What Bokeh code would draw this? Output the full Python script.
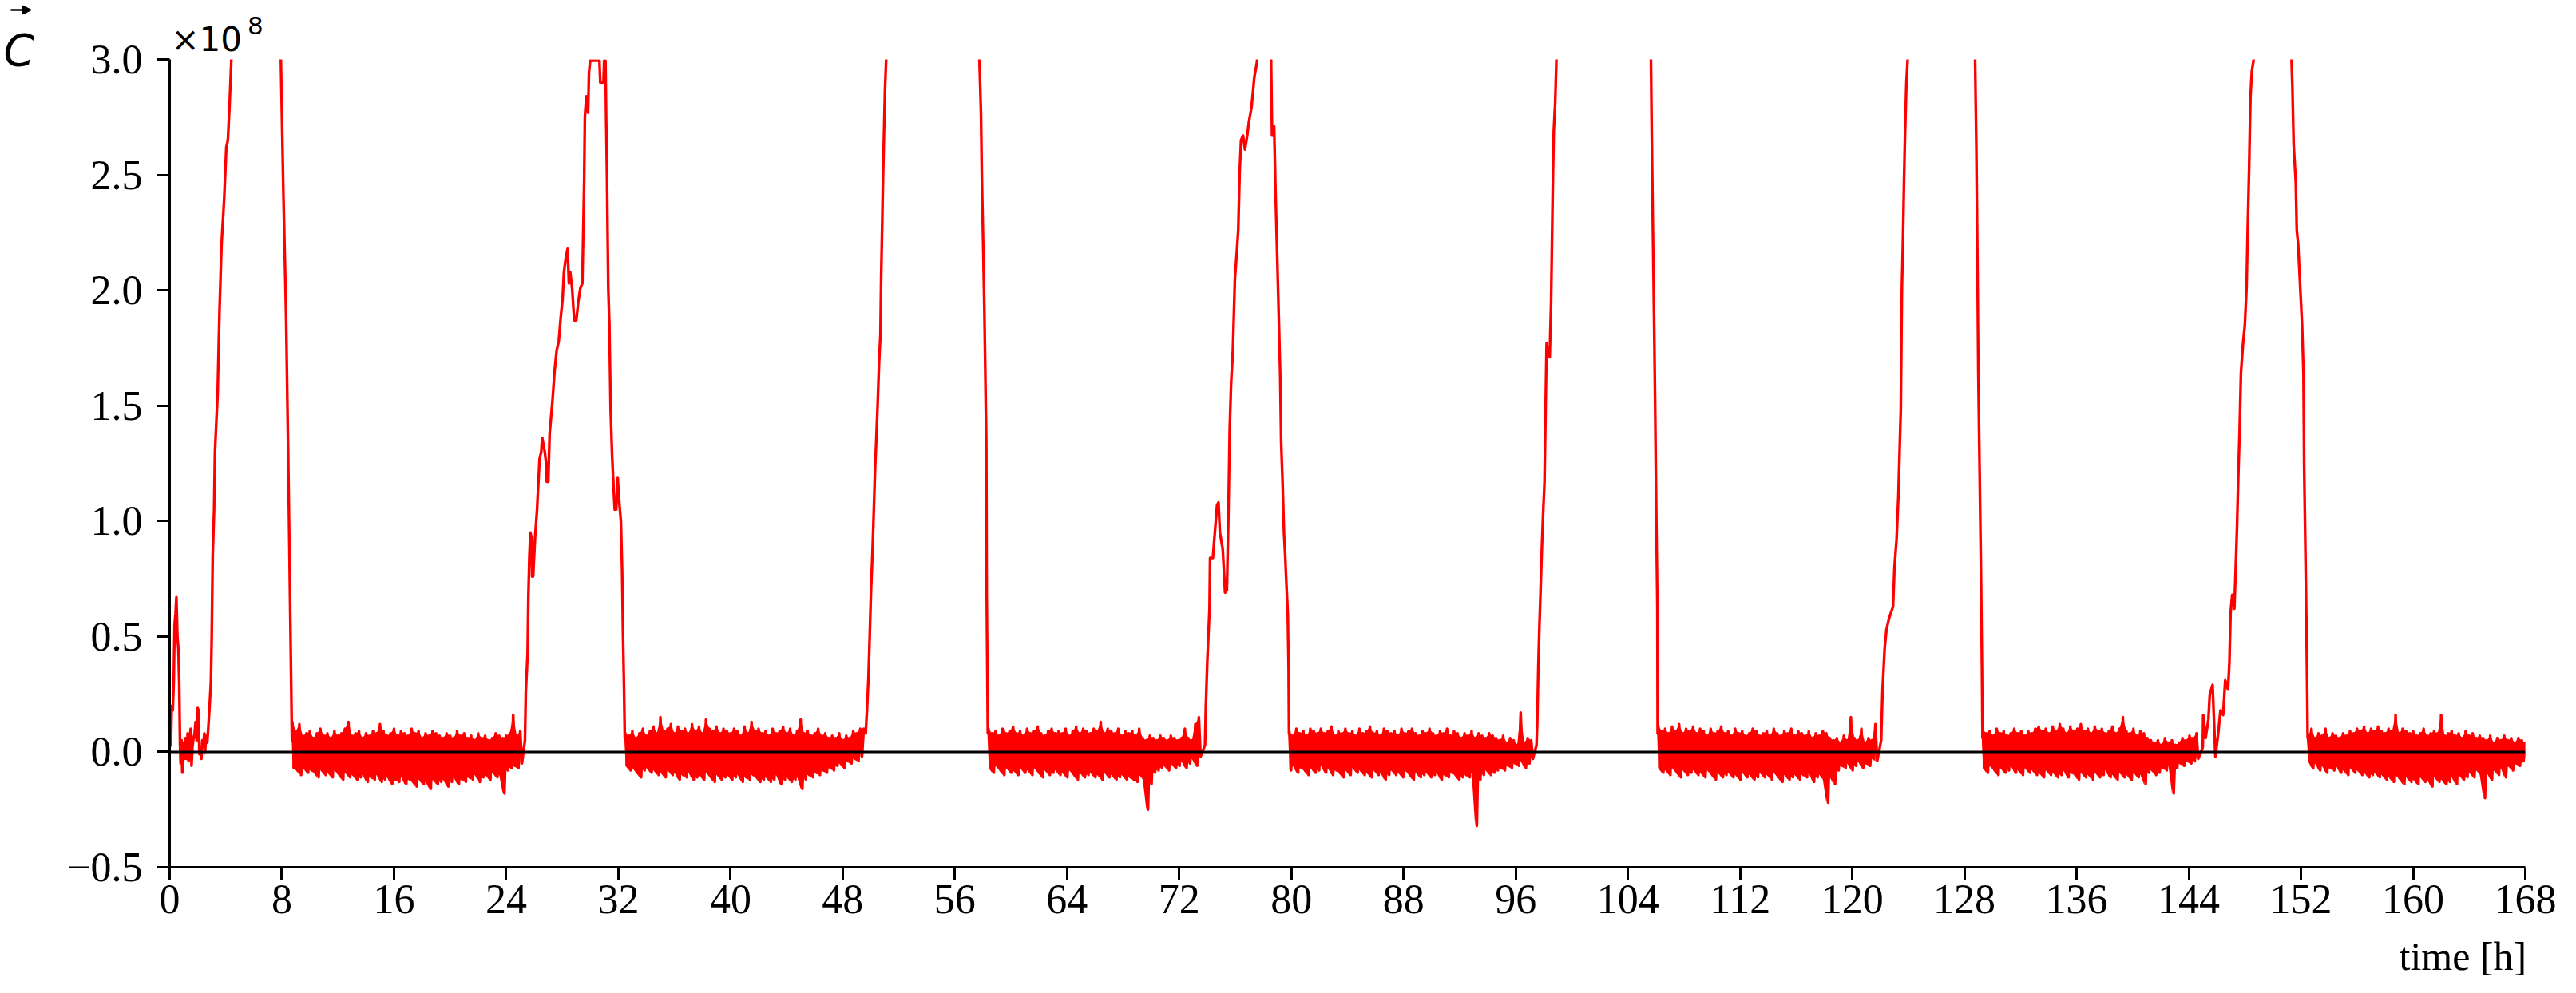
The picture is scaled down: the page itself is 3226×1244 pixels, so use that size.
from bokeh.plotting import figure
from bokeh.models import (Range1d, FixedTicker, Span, Label, PrintfTickFormatter,
                          Arrow, NormalHead)
from bokeh.layouts import row
from bokeh.embed import file_html
from bokeh.resources import INLINE

# ---------------- data (values in units of 1e8) ----------------
ramp0_t = [0.0, 0.09, 0.15, 0.22, 0.29, 0.35, 0.42, 0.48, 0.55, 0.62,
           0.68, 0.74, 0.78, 0.85, 0.9, 0.97, 1.05, 1.12, 1.2, 1.28,
           1.35, 1.42, 1.5, 1.56, 1.62, 1.7, 1.78, 1.85, 1.92, 2.0,
           2.06, 2.12, 2.2, 2.26, 2.33, 2.4, 2.47, 2.52, 2.6, 2.68,
           2.75, 2.85, 2.94, 3.0, 3.07, 3.17, 3.23, 3.42, 3.55, 3.7,
           3.89, 4.04, 4.15, 4.27, 4.4, 4.6, 6.2, 7.8, 7.93, 8.1,
           8.3, 8.45, 8.6, 8.72]
ramp0_v = [0.02, 0.04, 0.2, 0.18, 0.3, 0.55, 0.6, 0.67, 0.5, 0.45,
           0.3, 0.03, -0.05, 0.05, -0.09, 0.04, -0.03, 0.06, -0.03, 0.08,
           -0.04, 0.05, 0.1, -0.06, 0.02, 0.06, 0.08, 0.13, 0.05, 0.19,
           0.18, -0.01, 0.02, -0.03, 0.05, 0.02, 0.08, 0.0, 0.07, 0.04,
           0.1, 0.2, 0.3, 0.5, 0.85, 1.05, 1.3, 1.55, 1.9, 2.2,
           2.4, 2.62, 2.65, 2.8, 3.0, 3.4, 3.9, 3.3, 3.0, 2.45,
           1.9, 1.3, 0.6, 0.05]

ramp1_t = [25.34, 25.4, 25.53, 25.58, 25.65, 25.72, 25.8, 25.85, 25.92, 26.05,
           26.2, 26.38, 26.5, 26.57, 26.75, 26.85, 26.9, 27.0, 27.1, 27.3,
           27.45, 27.6, 27.75, 27.9, 28.02, 28.12, 28.25, 28.38, 28.47, 28.56,
           28.7, 28.85, 29.0, 29.14, 29.29, 29.43, 29.48, 29.56, 29.61, 29.71,
           29.84, 29.9, 29.99, 30.3, 30.65, 30.71, 30.94, 30.99, 31.08, 31.13,
           31.19, 31.23, 31.28, 31.36, 31.45, 31.55, 31.64, 31.74, 31.85, 31.95,
           32.08, 32.18, 32.27, 32.33, 32.4, 32.46]
ramp1_v = [0.05, 0.26, 0.43, 0.67, 0.84, 0.95, 0.93, 0.76, 0.76, 0.92,
           1.05, 1.27, 1.3, 1.36, 1.3, 1.25, 1.17, 1.17, 1.38, 1.52,
           1.65, 1.74, 1.78, 1.89, 1.96, 2.08, 2.14, 2.18, 2.03, 2.08,
           2.01, 1.87, 1.87, 1.95, 2.01, 2.03, 2.2, 2.47, 2.75, 2.84,
           2.77, 2.94, 2.995, 2.995, 2.995, 2.9, 2.9, 2.995, 2.995, 2.74,
           2.49, 2.26, 2.01, 1.85, 1.48, 1.29, 1.17, 1.05, 1.05, 1.19,
           1.07, 1.0, 0.78, 0.51, 0.29, 0.06]

ramp2_t = [49.5, 49.64, 49.73, 49.83, 49.92, 50.02, 50.12, 50.21, 50.31, 50.4,
           50.5, 50.59, 50.69, 50.74, 50.82, 50.87, 50.97, 51.02, 51.1, 51.3,
           54.5, 57.6, 57.75, 57.86, 57.93, 58.03, 58.1, 58.18, 58.24, 58.27,
           58.35]
ramp2_v = [0.1, 0.08, 0.18, 0.31, 0.49, 0.7, 0.86, 1.03, 1.23, 1.36,
           1.52, 1.68, 1.81, 2.05, 2.3, 2.47, 2.75, 2.88, 3.0, 3.4,
           3.9, 3.3, 3.0, 2.77, 2.47, 2.16, 1.93, 1.6, 1.34, 0.68,
           0.08]

ramp3_t = [73.84, 73.9, 74.0, 74.16, 74.2, 74.4, 74.5, 74.7, 74.8, 74.9,
           75.1, 75.27, 75.4, 75.5, 75.6, 75.7, 75.82, 75.97, 76.1, 76.21,
           76.31, 76.41, 76.55, 76.69, 76.85, 76.97, 77.15, 77.26, 77.35, 77.55,
           77.7, 78.3, 78.55, 78.62, 78.7, 78.77, 78.87, 79.0, 79.08, 79.2,
           79.27, 79.37, 79.47, 79.55, 79.65, 79.74, 79.8, 79.83]
ramp3_v = [0.03, 0.2, 0.39, 0.62, 0.84, 0.84, 0.92, 1.07, 1.08, 0.95,
           0.88, 0.69, 0.7, 1.0, 1.4, 1.6, 1.73, 2.05, 2.16, 2.26,
           2.51, 2.65, 2.67, 2.61, 2.67, 2.73, 2.79, 2.86, 2.92, 2.99,
           3.3, 3.3, 3.0, 2.67, 2.67, 2.71, 2.42, 2.12, 1.93, 1.64,
           1.34, 1.17, 0.95, 0.86, 0.72, 0.6, 0.37, 0.08]

ramp4_t = [97.48, 97.53, 97.61, 97.68, 97.76, 97.86, 97.95, 98.05, 98.14, 98.2,
           98.3, 98.42, 98.52, 98.58, 98.65, 98.71, 98.81, 98.9, 99.1, 102.0,
           105.5, 105.64, 105.7, 105.78, 105.87, 105.95, 106.02, 106.1, 106.12]
ramp4_v = [0.03, 0.12, 0.37, 0.53, 0.68, 0.88, 1.03, 1.17, 1.54, 1.77,
           1.74, 1.71, 1.95, 2.2, 2.49, 2.69, 2.81, 3.0, 3.4, 3.9,
           3.3, 3.0, 2.67, 2.26, 1.85, 1.44, 1.03, 0.62, 0.08]

ramp5_t = [122.06, 122.16, 122.31, 122.44, 122.63, 122.91, 123.01, 123.16, 123.29, 123.38,
           123.46, 123.54, 123.61, 123.69, 123.76, 123.86, 123.95, 124.2, 126.5, 128.6,
           128.76, 128.85, 128.93, 128.99, 129.08, 129.17, 129.25, 129.29]
ramp5_v = [0.05, 0.27, 0.45, 0.53, 0.58, 0.63, 0.8, 0.92, 1.11, 1.31,
           1.48, 2.01, 2.2, 2.47, 2.67, 2.9, 3.0, 3.4, 3.9, 3.3,
           3.0, 2.61, 2.1, 1.64, 1.23, 0.82, 0.37, 0.06]

ramp6_t = [145.0, 145.03, 145.2, 145.4, 145.5, 145.7, 145.9, 146.1, 146.26, 146.45,
           146.6, 146.8, 146.9, 146.98, 147.1, 147.25, 147.34, 147.44, 147.53, 147.63,
           147.72, 147.87, 148.0, 148.12, 148.2, 148.31, 148.4, 148.5, 148.63, 148.8,
           150.0, 151.2, 151.33, 151.39, 151.48, 151.63, 151.7, 151.8, 151.86, 151.95,
           152.08, 152.18, 152.23, 152.33, 152.42, 152.48]
ramp6_v = [0.02, 0.16, 0.06, 0.14, 0.25, 0.29, -0.02, 0.08, 0.18, 0.16,
           0.31, 0.27, 0.39, 0.6, 0.68, 0.62, 0.78, 0.97, 1.19, 1.4,
           1.64, 1.77, 1.85, 2.01, 2.26, 2.55, 2.84, 2.95, 3.0, 3.4,
           3.7, 3.3, 3.0, 2.88, 2.63, 2.47, 2.26, 2.2, 2.12, 2.01,
           1.85, 1.64, 1.23, 0.82, 0.41, 0.06]

# quiet stretches: upper / lower excursions (units of 1e6) per 0.25 h sample
STEP = 0.25
noiseA_start = 8.75
noiseA_hi = [13, 9, 12, 7, 8, 9, 6, 8, 10, 7,
             8, 6, 9, 7, 8, 10, 13, 7, 8, 9,
             6, 8, 7, 9, 8, 12, 9, 7, 8, 10,
             7, 9, 8, 7, 10, 8, 9, 6, 8, 7,
             9, 8, 7, 6, 8, 7, 6, 9, 7, 8,
             6, 7, 5, 8, 6, 7, 5, 6, 8, 7,
             6, 7, 8, 16, 7, 9]
noiseA_lo = [-7, -8, -10, -7, -9, -8, -9, -11, -8, -10,
             -9, -11, -8, -10, -12, -9, -11, -10, -12, -11,
             -10, -13, -11, -12, -10, -13, -12, -11, -14, -12,
             -13, -11, -14, -12, -13, -15, -12, -14, -13, -16,
             -12, -14, -13, -12, -15, -13, -11, -14, -12, -13,
             -11, -12, -10, -13, -11, -10, -12, -9, -11, -10,
             -18, -8, -7, -6, -7, -5]

noiseB_start = 32.5
noiseB_hi = [8, 7, 9, 6, 8, 10, 7, 9, 11, 8,
             15, 9, 10, 12, 8, 11, 9, 10, 8, 12,
             9, 11, 8, 14, 10, 9, 11, 8, 10, 9,
             8, 10, 9, 7, 11, 8, 13, 9, 10, 8,
             9, 7, 10, 8, 9, 11, 8, 10, 7, 9,
             14, 8, 9, 7, 8, 10, 7, 8, 6, 7,
             6, 8, 5, 7, 6, 9, 8, 10]
noiseB_lo = [-6, -8, -7, -9, -11, -8, -7, -9, -8, -10,
             -9, -11, -8, -10, -9, -12, -10, -11, -9, -12,
             -11, -10, -12, -9, -11, -13, -10, -12, -11, -10,
             -12, -11, -10, -13, -11, -12, -10, -11, -13, -12,
             -11, -13, -12, -10, -14, -12, -11, -13, -12, -11,
             -16, -12, -10, -11, -9, -10, -8, -9, -7, -8,
             -6, -5, -7, -4, -5, -3, -4, -2]

noiseC_start = 58.4
noiseC_hi = [10, 8, 9, 7, 10, 8, 9, 11, 8, 9,
             7, 10, 8, 9, 11, 8, 7, 9, 10, 8,
             9, 8, 10, 7, 9, 11, 8, 10, 9, 8,
             10, 9, 13, 8, 10, 9, 8, 10, 7, 9,
             8, 9, 7, 10, 6, 5, 7, 6, 5, 7,
             6, 5, 7, 6, 5, 6, 10, 6, 5, 12,
             15]
noiseC_lo = [-7, -9, -6, -8, -10, -7, -9, -8, -10, -7,
             -9, -8, -10, -7, -9, -11, -8, -10, -9, -8,
             -10, -9, -11, -8, -10, -12, -9, -11, -10, -9,
             -11, -10, -12, -9, -11, -10, -12, -11, -10, -12,
             -11, -12, -13, -10, -12, -25, -14, -9, -8, -7,
             -6, -8, -5, -7, -6, -4, -7, -5, -3, -6,
             -2]

noiseD_start = 79.85
noiseD_hi = [9, 7, 10, 8, 9, 7, 10, 9, 8, 10,
             8, 9, 11, 7, 9, 8, 10, 8, 9, 7,
             10, 8, 9, 11, 8, 9, 7, 10, 9, 8,
             9, 7, 10, 8, 9, 10, 8, 7, 9, 8,
             10, 8, 7, 9, 8, 10, 7, 9, 8, 6,
             8, 7, 9, 6, 8, 7, 6, 8, 7, 6,
             5, 7, 4, 6, 5, 3, 17, 4, 6, 5]
noiseD_lo = [-8, -6, -9, -7, -8, -10, -7, -9, -8, -6,
             -9, -7, -10, -8, -9, -11, -8, -10, -7, -9,
             -8, -10, -9, -11, -8, -10, -9, -12, -10, -8,
             -10, -9, -11, -8, -10, -12, -9, -11, -10, -9,
             -11, -10, -9, -12, -10, -11, -9, -10, -12, -11,
             -10, -11, -9, -32, -12, -10, -8, -10, -9, -8,
             -7, -8, -6, -7, -5, -6, -4, -7, -5, -3]

noiseE_start = 106.15
noiseE_hi = [12, 9, 10, 8, 11, 9, 12, 8, 10, 9,
             11, 8, 10, 9, 7, 10, 8, 9, 11, 8,
             9, 7, 10, 8, 9, 7, 8, 10, 9, 7,
             8, 9, 7, 10, 8, 7, 9, 8, 10, 7,
             9, 8, 7, 9, 6, 8, 7, 9, 8, 6,
             5, 6, 4, 7, 5, 15, 6, 5, 10, 4,
             6, 5, 12]
noiseE_lo = [-7, -9, -8, -10, -7, -9, -11, -8, -10, -9,
             -8, -10, -9, -11, -8, -10, -12, -9, -11, -10,
             -9, -11, -10, -12, -9, -11, -10, -12, -11, -9,
             -11, -10, -12, -9, -11, -13, -10, -12, -11, -10,
             -12, -10, -11, -9, -13, -11, -10, -12, -22, -11,
             -14, -8, -6, -7, -5, -8, -6, -4, -7, -5,
             -6, -3, -4]

noiseF_start = 129.3
noiseF_hi = [10, 8, 9, 7, 10, 8, 9, 7, 8, 10,
             8, 9, 7, 9, 8, 10, 11, 9, 10, 8,
             11, 9, 12, 10, 8, 11, 9, 10, 12, 9,
             10, 8, 11, 9, 10, 8, 9, 11, 8, 10,
             15, 9, 8, 10, 7, 9, 8, 6, 5, 4,
             5, 3, 6, 4, 5, 3, 4, 6, 5, 7,
             6, 8]
noiseF_lo = [-7, -9, -6, -8, -10, -7, -9, -8, -6, -9,
             -8, -10, -7, -9, -8, -10, -9, -11, -8, -10,
             -9, -11, -10, -8, -11, -9, -10, -12, -9, -11,
             -10, -12, -9, -11, -10, -8, -11, -10, -12, -9,
             -11, -10, -12, -9, -11, -10, -14, -9, -8, -10,
             -9, -7, -8, -6, -18, -7, -5, -6, -4, -5,
             -4, -3]

noiseG_start = 152.5
noiseG_hi = [7, 10, 6, 8, 7, 10, 6, 8, 7, 6,
             8, 7, 9, 8, 10, 9, 11, 8, 10, 9,
             11, 9, 8, 10, 9, 16, 8, 10, 9, 8,
             9, 7, 8, 10, 7, 8, 9, 8, 16, 7,
             8, 9, 7, 8, 6, 9, 7, 8, 6, 7,
             6, 5, 7, 4, 6, 5, 7, 5, 6, 4,
             6, 5, 4]
noiseG_lo = [-4, -7, -5, -8, -6, -9, -7, -8, -6, -9,
             -8, -10, -7, -9, -8, -10, -9, -11, -10, -9,
             -11, -10, -12, -11, -13, -10, -12, -14, -11, -13,
             -12, -14, -11, -13, -12, -15, -11, -13, -12, -14,
             -13, -11, -14, -10, -12, -11, -9, -11, -8, -10,
             -20, -9, -12, -8, -10, -7, -11, -6, -8, -5,
             -6, -4, -3]

x_ticks = list(range(0, 169, 8))
y_ticks = [-0.5, 0.0, 0.5, 1.0, 1.5, 2.0, 2.5, 3.0]

RED = "#ff0000"


def noise_parts(start, hi, lo):
    assert len(hi) == len(lo)
    xs, ys, bx = [], [], []
    for i, (h, l) in enumerate(zip(hi, lo)):
        t = start + i * STEP
        xs += [t, t + STEP / 2]
        ys += [h / 100.0, l / 100.0]
        bx.append(t)
    return xs, ys, bx, [h / 100.0 for h in hi], [l / 100.0 for l in lo]


noise_sets = [
    (noiseA_start, noiseA_hi, noiseA_lo),
    (noiseB_start, noiseB_hi, noiseB_lo),
    (noiseC_start, noiseC_hi, noiseC_lo),
    (noiseD_start, noiseD_hi, noiseD_lo),
    (noiseE_start, noiseE_hi, noiseE_lo),
    (noiseF_start, noiseF_hi, noiseF_lo),
    (noiseG_start, noiseG_hi, noiseG_lo),
]
ramps = [(ramp0_t, ramp0_v), (ramp1_t, ramp1_v), (ramp2_t, ramp2_v), (ramp3_t, ramp3_v),
         (ramp4_t, ramp4_v), (ramp5_t, ramp5_v), (ramp6_t, ramp6_v)]

X, Y = [], []
bands = []
for (rt, rv), (ns, nh, nl) in zip(ramps, noise_sets):
    assert len(rt) == len(rv)
    X += rt
    Y += rv
    xs, ys, bx, bh, bl = noise_parts(ns, nh, nl)
    X += xs
    Y += ys
    bands.append((bx, bl, bh))

# ---------------- page geometry (page px; page margin 8) ----------------
LEFT_W = 50           # narrow strip holding the C-vector symbol
MAIN_W = 3210 - LEFT_W
FIG_H = 1228


def no_align(fig):
    try:
        fig.frame_align = False
    except Exception:
        pass


# left strip, page coordinates
left = figure(width=LEFT_W, height=FIG_H, x_range=Range1d(8, 8 + LEFT_W),
              y_range=Range1d(8 + FIG_H, 8), output_backend="svg",
              toolbar_location=None, x_axis_type=None, y_axis_type=None, min_border=0)
left.outline_line_color = None
left.grid.visible = False
left.background_fill_color = "white"
left.border_fill_color = "white"
no_align(left)
left.add_layout(Label(x=12, y=70, text="C", text_font="DejaVu Sans",
                      text_font_style="italic", text_font_size="55px",
                      text_align="left", text_baseline="alphabetic", text_color="black"))
left.add_layout(Arrow(x_start=21, y_start=20, x_end=47, y_end=20, line_width=2.5,
                      line_color="black",
                      end=NormalHead(size=11, fill_color="black", line_color="black")))

# main plot
p = figure(width=MAIN_W, height=FIG_H,
           x_range=Range1d(0, 168), y_range=Range1d(-0.5, 3.0),
           output_backend="svg", toolbar_location=None,
           min_border_left=220 - (8 + LEFT_W), min_border_right=3218 - 3170,
           min_border_top=74, min_border_bottom=142)
no_align(p)
p.outline_line_color = None
p.grid.visible = False
p.background_fill_color = "white"
p.border_fill_color = "white"

for bx, bl, bh in bands:
    p.varea(x=bx, y1=bl, y2=bh, fill_color=RED, fill_alpha=1.0)
p.line(X, Y, line_color=RED, line_width=3.4, line_join="round")

p.add_layout(Span(location=0, dimension="width", line_color="black", line_width=3))

TICK_FONT = "Liberation Serif"
for ax in (p.xaxis[0], p.yaxis[0]):
    ax.axis_line_color = "black"
    ax.axis_line_width = 3
    ax.major_tick_line_color = "black"
    ax.major_tick_line_width = 3
    ax.major_tick_in = 0
    ax.major_tick_out = 16
    ax.minor_tick_line_color = None
    ax.major_label_text_font = TICK_FONT
    ax.major_label_text_font_size = "52px"
    ax.major_label_text_color = "black"

p.xaxis[0].ticker = FixedTicker(ticks=x_ticks)
p.xaxis[0].major_label_standoff = 6
p.yaxis[0].ticker = FixedTicker(ticks=y_ticks)
p.yaxis[0].formatter = PrintfTickFormatter(format="%.1f")
p.yaxis[0].major_label_overrides = {-0.5: "\u22120.5"}
p.yaxis[0].major_label_standoff = 18

# texts placed in the side panels (data coordinates, so they sit exactly)
p.add_layout(Label(x=0.11, y=3.085, text="\u00d710", text_font="DejaVu Sans",
                   text_font_size="42px", text_align="left",
                   text_baseline="alphabetic", text_color="black"), "above")
p.add_layout(Label(x=5.55, y=3.148, text="8", text_font="DejaVu Sans",
                   text_font_size="31px", text_align="left",
                   text_baseline="alphabetic", text_color="black"), "right")
p.add_layout(Label(x=168.1, y=-0.885, text="time [h]", text_font=TICK_FONT,
                   text_font_size="50px", text_align="right",
                   text_baseline="alphabetic", text_color="black"), "below")

layout = row(left, p, spacing=0)

open("out.html", "w").write(file_html(layout, INLINE))
